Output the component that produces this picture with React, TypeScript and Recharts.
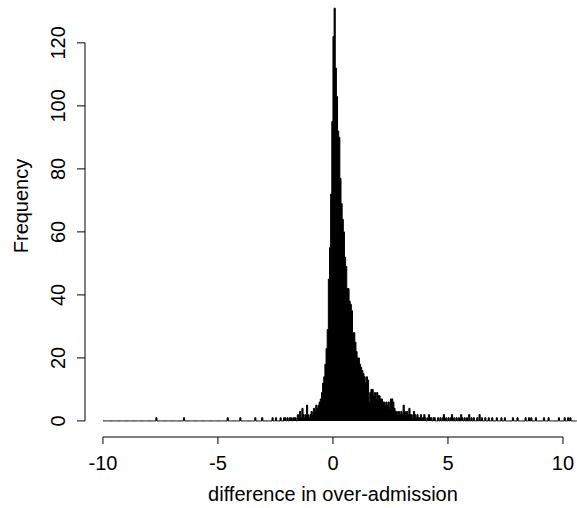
import React from 'react';
import { ComposedChart, Area, XAxis, YAxis, ReferenceLine } from 'recharts';

// histogram bins of width 0.05, counts
const BIN_WIDTH = 0.05;
const FIRST_BIN = -10;
const LAST_EDGE = 10.6;

// dense part, bins from -2.00 to 4.45
const DENSE_START = -2.0;
const denseCounts = [
  1, 0, 1, 1, 0, 1, 1, 1, 0, 2,
  1, 3, 1, 4, 2, 1, 2, 5, 2, 1,
  2, 3, 2, 4, 3, 5, 4, 5, 6, 7,
  9, 12, 14, 18, 23, 29, 45, 55, 72, 95,
  122, 131, 112, 103, 92, 90, 77, 69, 64, 60,
  52, 49, 42, 42, 38, 37, 35, 28, 28, 25,
  22, 20, 20, 18, 17, 16, 15, 14, 12, 14,
  13, 6, 9, 10, 10, 8, 9, 7, 9, 8,
  8, 7, 7, 6, 6, 5, 6, 5, 6, 4,
  7, 7, 6, 4, 3, 3, 2, 3, 2, 3,
  2, 5, 3, 2, 3, 2, 4, 2, 2, 1,
  3, 2, 1, 2, 1, 1, 2, 1, 1, 2,
  1, 0, 1, 2, 1, 1, 0, 1, 1, 0,
];

// scattered single bins in the tails
const tailStarts = [
  -7.7, -6.5, -4.6, -4.05, -3.4, -3.1, -2.65, -2.5, -2.3, -2.15, -2.1,
  4.55, 4.65, 4.75, 4.8, 4.9, 5.0, 5.1, 5.15, 5.25, 5.35, 5.45, 5.55, 5.6,
  5.7, 5.8, 5.9, 6.0, 6.1, 6.25, 6.35, 6.45, 6.6, 6.75, 6.9, 7.1, 7.3, 7.45,
  7.8, 8.0, 8.35, 8.5, 8.6, 8.8, 9.15, 9.35, 9.8, 10.05, 10.2, 10.3,
];
const tailCounts = [
  1, 1, 1, 1, 1, 1, 1, 1, 1, 1, 1,
  1, 1, 1, 2, 1, 1, 1, 2, 1, 1, 1, 2, 1,
  1, 1, 2, 1, 1, 1, 2, 1, 1, 1, 1, 1, 1, 1,
  1, 1, 1, 1, 1, 1, 1, 1, 1, 1, 1, 1,
];

const xTicks = [-10, -5, 0, 5, 10];
const yTicks = [0, 20, 40, 60, 80, 100, 120];

const X_DOMAIN: [number, number] = [-10.78, 10.61];
const Y_DOMAIN: [number, number] = [-5.1, 133.6];

const binIndex = (v: number) => Math.round((v - FIRST_BIN) / BIN_WIDTH);

const nBins = binIndex(LAST_EDGE);
const counts: number[] = new Array(nBins).fill(0);
denseCounts.forEach((c, i) => {
  counts[binIndex(DENSE_START) + i] = c;
});
tailStarts.forEach((s, i) => {
  counts[binIndex(s)] = tailCounts[i];
});
const data = counts.map((c, i) => ({ x: +(FIRST_BIN + i * BIN_WIDTH).toFixed(2), count: c }));
data.push({ x: LAST_EDGE, count: 0 });

const FONT = '"Liberation Sans", Arial, Helvetica, sans-serif';
const FS = 20;

const XTick = (props: any) => {
  const { x, y, payload } = props;
  return (
    <text x={x} y={y + 24} textAnchor="middle" fontFamily={FONT} fontSize={FS} fill="#000">
      {payload.value}
    </text>
  );
};

const YTick = (props: any) => {
  const { x, y, payload } = props;
  return (
    <text transform={`translate(${x - 10},${y}) rotate(-90)`} textAnchor="middle" fontFamily={FONT} fontSize={FS} fill="#000">
      {payload.value}
    </text>
  );
};

const App = () => {
  return (
    <div style={{ position: 'absolute', left: 0, top: 0, background: '#fff' }}>
      <ComposedChart width={577} height={508} data={data} margin={{ top: 0, right: 0, bottom: 0, left: 0 }}>
        <XAxis
          dataKey="x"
          type="number"
          domain={X_DOMAIN}
          ticks={xTicks}
          allowDataOverflow
          axisLine={false}
          tickSize={7}
          tickLine={{ stroke: '#000' }}
          tick={<XTick />}
          height={71}
          label={{
            content: () => (
              <text x={333} y={501} textAnchor="middle" fontFamily={FONT} fontSize={FS} fill="#000">
                difference in over-admission
              </text>
            ),
          }}
        />
        <YAxis
          type="number"
          domain={Y_DOMAIN}
          ticks={yTicks}
          allowDataOverflow
          axisLine={false}
          tickSize={8}
          tickLine={{ stroke: '#000' }}
          tick={<YTick />}
          width={85}
          label={{
            content: () => (
              <text transform="translate(28,206) rotate(-90)" textAnchor="middle" fontFamily={FONT} fontSize={FS} fill="#000">
                Frequency
              </text>
            ),
          }}
        />
        <Area
          dataKey="count"
          type="stepAfter"
          stroke="#000"
          strokeWidth={1}
          fill="#000"
          fillOpacity={1}
          baseValue={0}
          isAnimationActive={false}
        />
        <ReferenceLine
          segment={[{ x: -10, y: Y_DOMAIN[0] }, { x: 10, y: Y_DOMAIN[0] }]}
          stroke="#000"
          ifOverflow="visible"
        />
        <ReferenceLine
          segment={[{ x: X_DOMAIN[0], y: 0 }, { x: X_DOMAIN[0], y: 120 }]}
          stroke="#000"
          ifOverflow="visible"
        />
      </ComposedChart>
    </div>
  );
};

export default App;
